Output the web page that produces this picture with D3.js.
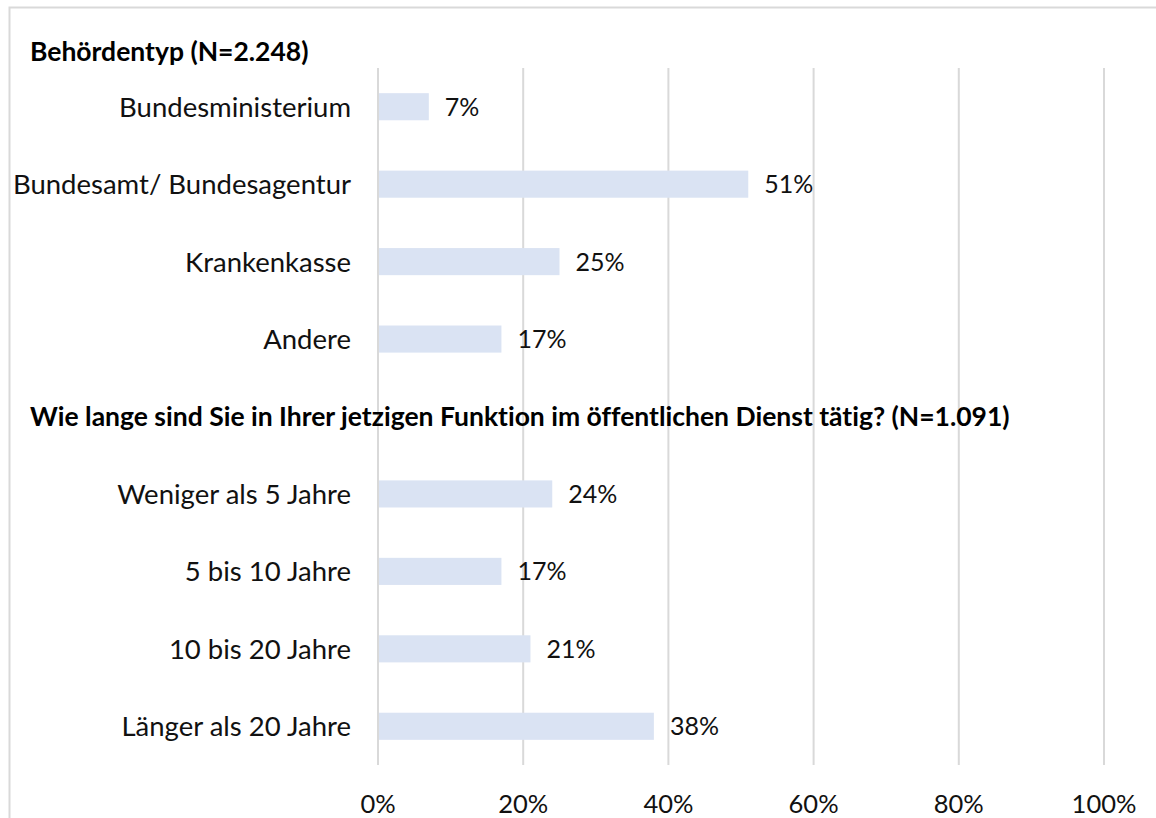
<!DOCTYPE html>
<html>
<head>
<meta charset="utf-8">
<script src="https://cdn.jsdelivr.net/npm/d3@7/dist/d3.min.js"></script>
<style>
  body { margin: 0; background: #fff; }
  svg { display: block; font-family: Lato, "Open Sans", sans-serif; font-variant-ligatures: none; }
</style>
</head>
<body>
<div id="chart"></div>
<script>
// Daten (Excel-Stil, leere Zeile als Trenner für die zweite Frage)
const categories = [
  "Bundesministerium", "Bundesamt/ Bundesagentur", "Krankenkasse", "Andere",
  "__header__",
  "Weniger als 5 Jahre", "5 bis 10 Jahre", "10 bis 20 Jahre", "Länger als 20 Jahre"
];
const values = [7, 51, 25, 17, null, 24, 17, 21, 38];
const titles = ["Behördentyp (N=2.248)", "Wie lange sind Sie in Ihrer jetzigen Funktion im öffentlichen Dienst tätig? (N=1.091)"];
const ticks = [0, 20, 40, 60, 80, 100];

const width = 1156, height = 818;
const plot = { left: 378, right: 1104, top: 68, bottom: 765 };

const svg = d3.select("#chart").append("svg")
  .attr("width", width)
  .attr("height", height);

// Rahmen des Diagrammbereichs
svg.append("rect")
  .attr("x", 9.5).attr("y", 7.5)
  .attr("width", width + 20).attr("height", height + 20)
  .attr("fill", "none")
  .attr("stroke", "#d9d9d9")
  .attr("stroke-width", 2);

const x = d3.scaleLinear().domain([0, 100]).range([plot.left, plot.right]);
const y = d3.scaleBand().domain(categories.map((c, i) => i)).range([plot.top, plot.bottom]).paddingInner(0.65).paddingOuter(0.325);

// Gitternetz
svg.append("g")
  .selectAll("line")
  .data(ticks)
  .enter().append("line")
  .attr("x1", d => x(d)).attr("x2", d => x(d))
  .attr("y1", plot.top).attr("y2", plot.bottom)
  .attr("stroke", "#d9d9d9")
  .attr("stroke-width", 2);

// Achsenbeschriftung
svg.append("g")
  .selectAll("text")
  .data(ticks)
  .enter().append("text")
  .attr("x", d => x(d))
  .attr("y", 813)
  .attr("text-anchor", "middle")
  .style("font-size", "25.5px")
  .style("fill", "#111")
  .text(d => d + "%");

const rows = categories.map((c, i) => ({ label: c, value: values[i], i }))
  .filter(d => d.value !== null);

// Balken
svg.append("g")
  .selectAll("rect")
  .data(rows)
  .enter().append("rect")
  .attr("x", x(0) + 1)
  .attr("y", d => y(d.i))
  .attr("width", d => x(d.value) - x(0) - 1)
  .attr("height", y.bandwidth())
  .attr("fill", "#dae3f3");

// Werte
svg.append("g")
  .selectAll("text")
  .data(rows)
  .enter().append("text")
  .attr("x", d => x(d.value) + 16)
  .attr("y", d => y(d.i) + y.bandwidth() / 2)
  .attr("dy", "0.36em")
  .style("font-size", "25px")
  .style("fill", "#111")
  .text(d => d.value + "%");

// Kategorien
svg.append("g")
  .selectAll("text")
  .data(rows)
  .enter().append("text")
  .attr("x", 351)
  .attr("y", d => y(d.i) + y.bandwidth() / 2)
  .attr("dy", "0.36em")
  .attr("text-anchor", "end")
  .style("font-size", "27.5px")
  .style("fill", "#111")
  .text(d => d.label);

// Überschriften
const headerRow = categories.indexOf("__header__");
const titleY = [51, y(headerRow) + y.bandwidth() / 2];
svg.append("g")
  .selectAll("text")
  .data(titles)
  .enter().append("text")
  .attr("x", 30)
  .attr("y", (d, i) => titleY[i])
  .attr("dy", "0.36em")
  .style("font-size", "26.5px")
  .style("font-weight", "bold")
  .style("fill", "#000")
  .text(d => d);
</script>
</body>
</html>
